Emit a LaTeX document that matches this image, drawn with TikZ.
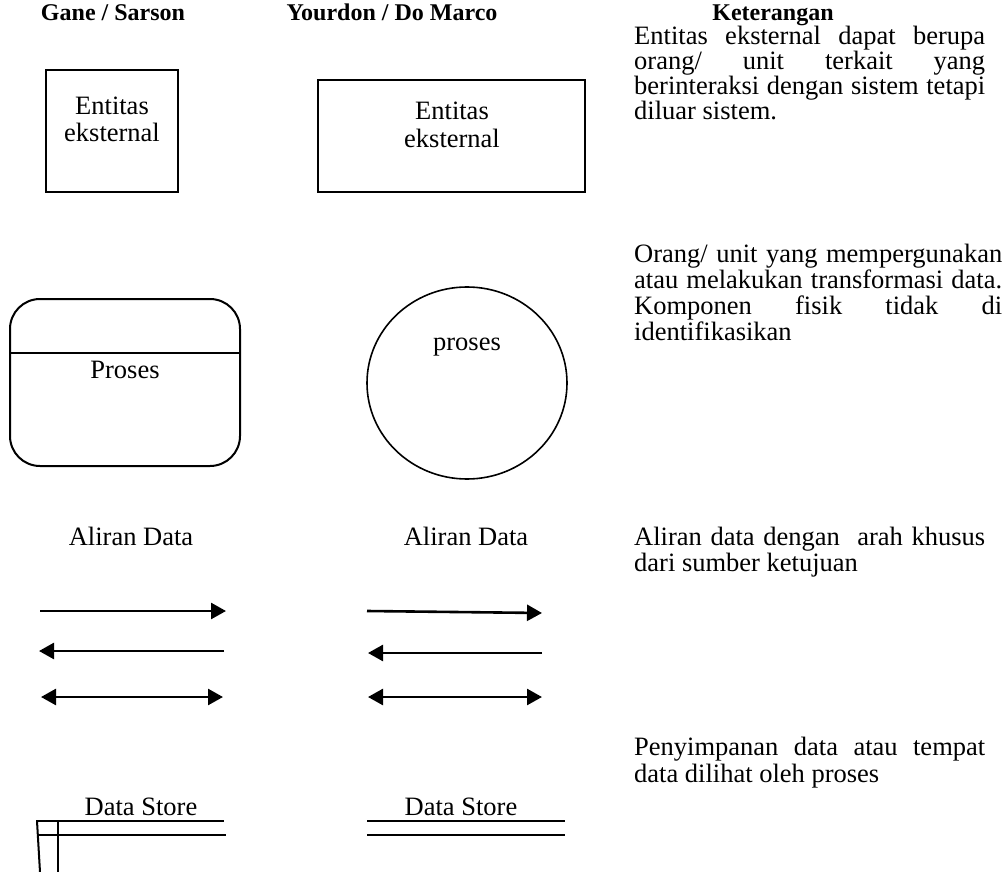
\documentclass[tikz,border=0pt]{standalone}
\usepackage{fontspec}
\setmainfont{Liberation Serif}
\usetikzlibrary{arrows.meta}
\begin{document}
\begin{tikzpicture}[x=1pt,y=-1pt,
  txt/.style={font=\fontsize{26.5}{26.5}\selectfont, inner sep=0pt, anchor=base},
  head/.style={txt, font=\fontsize{24}{24}\selectfont\bfseries},
  ket/.style={txt, anchor=base west},
  box/.style={draw, line width=2pt},
  flow/.style={line width=2.6pt, -{Triangle[length=15pt,width=16pt]}},
  flowb/.style={line width=2.6pt, {Triangle[length=15pt,width=16pt]}-{Triangle[length=15pt,width=16pt]}},
  store/.style={line width=2pt},
]
\useasboundingbox (0,0) rectangle (1004,872);
\newcommand{\jl}[1]{\makebox[351pt][s]{#1}}
\newcommand{\jw}[1]{\makebox[368pt][s]{#1}}

% headings
\node[head] (h1) at (113,21) {Gane / Sarson};
\node[head] (h2) at (392,21) {Yourdon / Do Marco};
\node[head] (h3) at (773,21) {Keterangan};

% external entity
\draw[box] (46,70) rectangle (178,192);
\node[txt] (e1a) at (112,115) {Entitas};
\node[txt] (e1b) at (112,142) {eksternal};
\draw[box] (318,80) rectangle (585,192);
\node[txt] (e2a) at (452,120) {Entitas};
\node[txt] (e2b) at (452,147) {eksternal};

\node[ket] (k1a) at (634,45) {\jl{Entitas eksternal dapat berupa}};
\node[ket] (k1b) at (634,70) {\jl{orang/ unit terkait yang}};
\node[ket] (k1c) at (634,95) {\jl{berinteraksi dengan sistem tetapi}};
\node[ket] (k1d) at (634,120) {diluar sistem.};

% process
\draw[box] (10,299) [rounded corners=30pt] rectangle (240,466);
\draw[box] (10,353) -- (240,353);
\node[txt] (p1) at (125,378) {Proses};
\draw[line width=1.6pt] (467,383) ellipse [x radius=100, y radius=96];
\node[txt] (p2) at (467,350) {proses};

\node[ket] (k2a) at (634,262) {\jw{Orang/ unit yang mempergunakan}};
\node[ket] (k2b) at (634,288) {\jw{atau melakukan transformasi data.}};
\node[ket] (k2c) at (634,314) {\jw{Komponen fisik tidak di}};
\node[ket] (k2d) at (634,340) {identifikasikan};

% data flow
\node[txt] (a1) at (131,545) {Aliran Data};
\node[txt] (a2) at (466,545) {Aliran Data};
\node[ket] (k3a) at (634,545) {\jl{Aliran data dengan \ arah khusus}};
\node[ket] (k3b) at (634,571) {dari sumber ketujuan};

\coordinate (g1s) at (40,611); \coordinate (g1e) at (226,611);
\coordinate (g2s) at (224,651); \coordinate (g2e) at (39,651);
\coordinate (g3s) at (41,697); \coordinate (g3e) at (223,697);
\draw[flow] (g1s) -- (g1e);
\draw[flow] (g2s) -- (g2e);
\draw[flowb] (g3s) -- (g3e);
\coordinate (y1s) at (367,611); \coordinate (y1e) at (542,613);
\coordinate (y2s) at (542,653); \coordinate (y2e) at (368,653);
\coordinate (y3s) at (368,697); \coordinate (y3e) at (542,697);
\draw[flow] (y1s) -- (y1e);
\draw[flow] (y2s) -- (y2e);
\draw[flowb] (y3s) -- (y3e);

% data store
\node[txt] (d1) at (141,815) {Data Store};
\draw[store] (36,821) -- (224,821);
\draw[store] (38,835) -- (226,835);
\draw[store] (37,821) -- (40,872);
\draw[store] (58,821) -- (58,872);
\node[txt] (d2) at (461,815) {Data Store};
\draw[store] (367,821) -- (565,821);
\draw[store] (367,835) -- (565,835);

\node[ket] (k4a) at (634,755) {\jl{Penyimpanan data atau tempat}};
\node[ket] (k4b) at (634,782) {data dilihat oleh proses};
\end{tikzpicture}
\end{document}
